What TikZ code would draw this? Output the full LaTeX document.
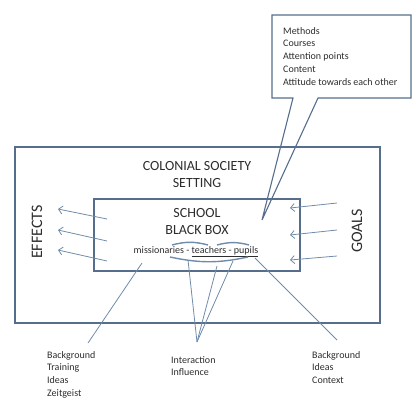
\documentclass[tikz,border=0pt]{standalone}
\usepackage{fontspec}
\setmainfont{Carlito}
\usetikzlibrary{arrows.meta}

\definecolor{framec}{RGB}{86,110,140}
\definecolor{linkc}{RGB}{112,140,170}
\definecolor{textc}{RGB}{45,45,45}

\begin{document}
\begin{tikzpicture}[x=1pt,y=-1pt,
    txt/.style={text=textc, font=\fontsize{10}{12.8}\selectfont, align=left, inner sep=0pt},
    head/.style={text=textc, font=\fontsize{14}{17}\selectfont, align=center, inner sep=0pt},
    side/.style={text=textc, font=\fontsize{16}{19}\selectfont, rotate=90, inner sep=0pt},
    frame/.style={draw=framec, line width=1.4pt},
    link/.style={draw=linkc, line width=0.8pt},
    flow/.style={link, -{Straight Barb[length=4pt,width=8pt]}}]

    \useasboundingbox (0,0) rectangle (412,399);

    \draw[frame] (15,147) rectangle (380,323);
    \draw[frame] (94,199) rectangle (300,271);
    \draw[frame, line width=1.1pt] (272,15) -- (411,15) -- (411,98) -- (318,98)
        -- (262,220) -- (293,98) -- (272,98) -- cycle;

    \node[head] (title) at (197,174.5) {COLONIAL SOCIETY\\SETTING};
    \node[head] (school) at (197,221.5) {SCHOOL\\BLACK BOX};
    \node[txt] (actors) at (196,252) {missionaries - \underline{teachers - pupils}};
    \node[side] (effects) at (37,232) {EFFECTS};
    \node[side] (goals) at (357,231) {GOALS};

    \node[txt, anchor=north west] (aims) at (283,27)
        {Methods\\Courses\\Attention points\\Content\\Attitude towards each other};
    \node[txt, anchor=north west] (bgmiss) at (47,351) {Background\\Training\\Ideas\\Zeitgeist};
    \node[txt, anchor=north west] (inter) at (171,356) {Interaction\\Influence};
    \node[txt, anchor=north west] (bgpup) at (312,351) {Background\\Ideas\\Context};

    \foreach \ya/\yb in {219/209, 241/230, 261/250}
        \draw[flow] (107,\ya) -- (58,\yb);
    \foreach \ya/\yb in {203/208, 230/235, 256/260}
        \draw[flow] (337,\ya) -- (290,\yb);

    \draw[link, line width=1.4pt] (172,245) to[bend left=15] (208,245);
    \draw[link, line width=1.4pt] (217,245) to[bend left=15] (249,245);
    \draw[link, line width=1.4pt] (170,257) to[bend right=12] (248,257);

    \coordinate (m0) at (142,263);
    \coordinate (m1) at (88,343);
    \coordinate (t0) at (188,260);
    \coordinate (t1) at (217,266);
    \coordinate (t2) at (233,261);
    \coordinate (tx) at (197,342);
    \coordinate (p0) at (255,258);
    \coordinate (p1) at (337,340);

    \draw[link] (m0) -- (m1);
    \foreach \t in {t0,t1,t2} \draw[link] (\t) -- (tx);
    \draw[link] (p0) -- (p1);

\end{tikzpicture}
\end{document}
